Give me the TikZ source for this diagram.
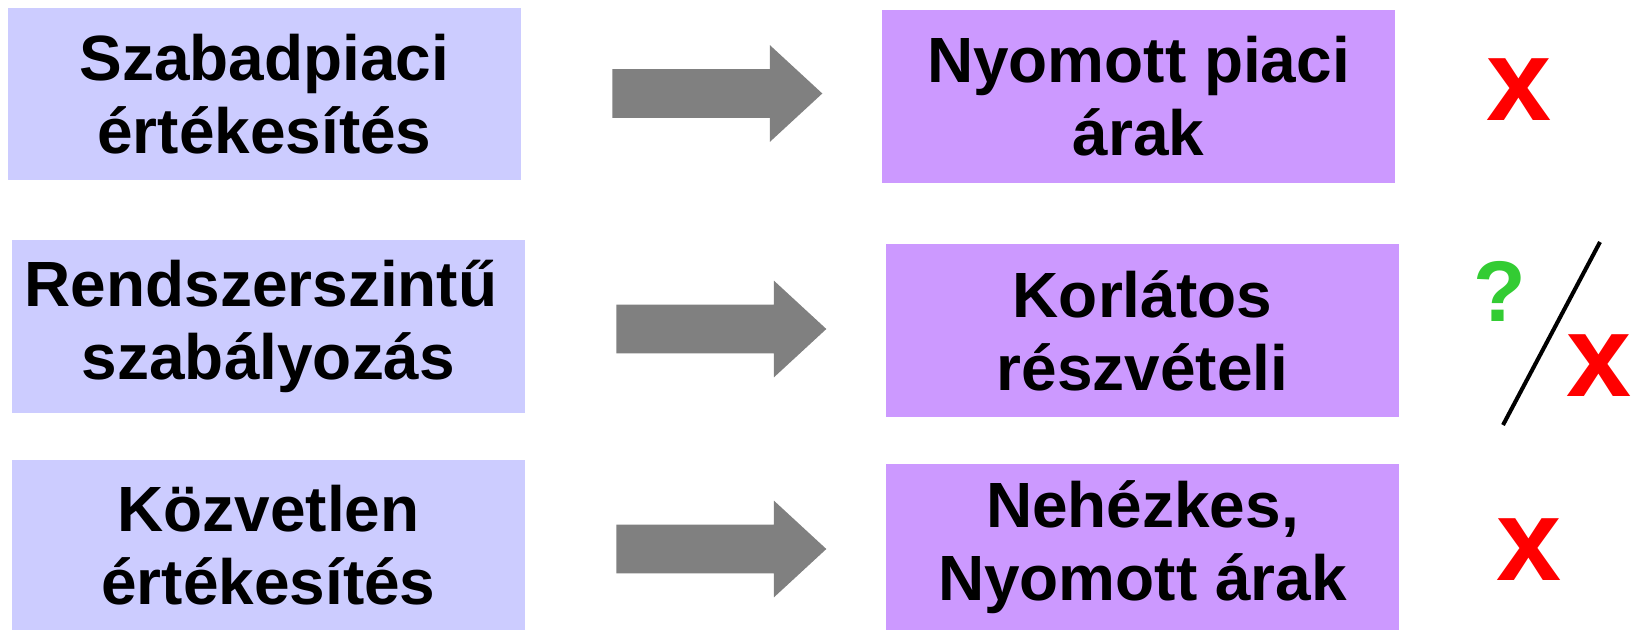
\documentclass[tikz,border=0pt]{standalone}
\usepackage{fontspec}
\setmainfont{Liberation Sans}
\usepackage{xcolor}
\usepackage{tikz}
\usetikzlibrary{shapes.arrows, positioning}

\definecolor{leftfill}{HTML}{CCCCFF}
\definecolor{rightfill}{HTML}{CC99FF}
\definecolor{arrowgray}{HTML}{808080}
\definecolor{crossred}{HTML}{FF0000}
\definecolor{askgreen}{HTML}{33CC33}

\begin{document}
\begin{tikzpicture}[x=0.02cm, y=0.02cm,
    font=\fontsize{36.4}{41.5}\selectfont\bfseries,
    leftbox/.style={rectangle, fill=leftfill, minimum width=10.26cm, minimum height=3.46cm, align=center, inner sep=0pt},
    rightbox/.style={rectangle, fill=rightfill, minimum width=10.26cm, minimum height=3.46cm, align=center, inner sep=0pt},
    bigarrow/.style={single arrow, fill=arrowgray, minimum height=4.2cm, inner xsep=0pt, inner ysep=0.48cm, text height=0pt, text depth=0pt, single arrow head extend=0.48cm, single arrow tip angle=85.4, anchor=tail},
    cross/.style={text=crossred, inner sep=0pt, font=\fontsize{66.6}{70}\selectfont\bfseries}]
    \useasboundingbox (0,0) rectangle (1636,630);

    % Left column
    \node (free) [leftbox] at (264.5, 536) {Szabadpiaci\\értékesítés};
    \node (system) [leftbox] at (268.5, 303.5) {Rendszerszintű\hspace*{0.3cm}\\szabályozás};
    \node (direct) [leftbox, minimum height=3.4cm] at (268.5, 85) {Közvetlen\\értékesítés};

    % Right column
    \node (prices) [rightbox] at (1138.5, 533.5) {Nyomott piaci\\árak};
    \node (limited) [rightbox] at (1142.5, 299.5) {Korlátos\\részvételi};
    \node (clumsy) [rightbox, minimum height=3.32cm] at (1142.5, 83) {Nehézkes,\\Nyomott árak};

    % Arrows
    \node (arr1) [bigarrow] at (612, 536.5) {};
    \node (arr2) [bigarrow] at (616, 301) {};
    \node (arr3) [bigarrow] at (616, 81) {};

    % Verdicts
    \node (x1) [cross] at (1519.5, 540.5) {x};
    \node (ask) [text=askgreen, inner sep=0pt, font=\fontsize{49}{52}\selectfont\bfseries] at (1500, 339) {?};
    \coordinate (slashtop) at (1600, 388);
    \coordinate (slashbot) at (1503, 205);
    \draw[line width=2.3pt] (slashtop) -- (slashbot);
    \node (x2) [cross] at (1599.5, 264) {x};
    \node (x3) [cross] at (1529.5, 80.5) {x};
\end{tikzpicture}
\end{document}
